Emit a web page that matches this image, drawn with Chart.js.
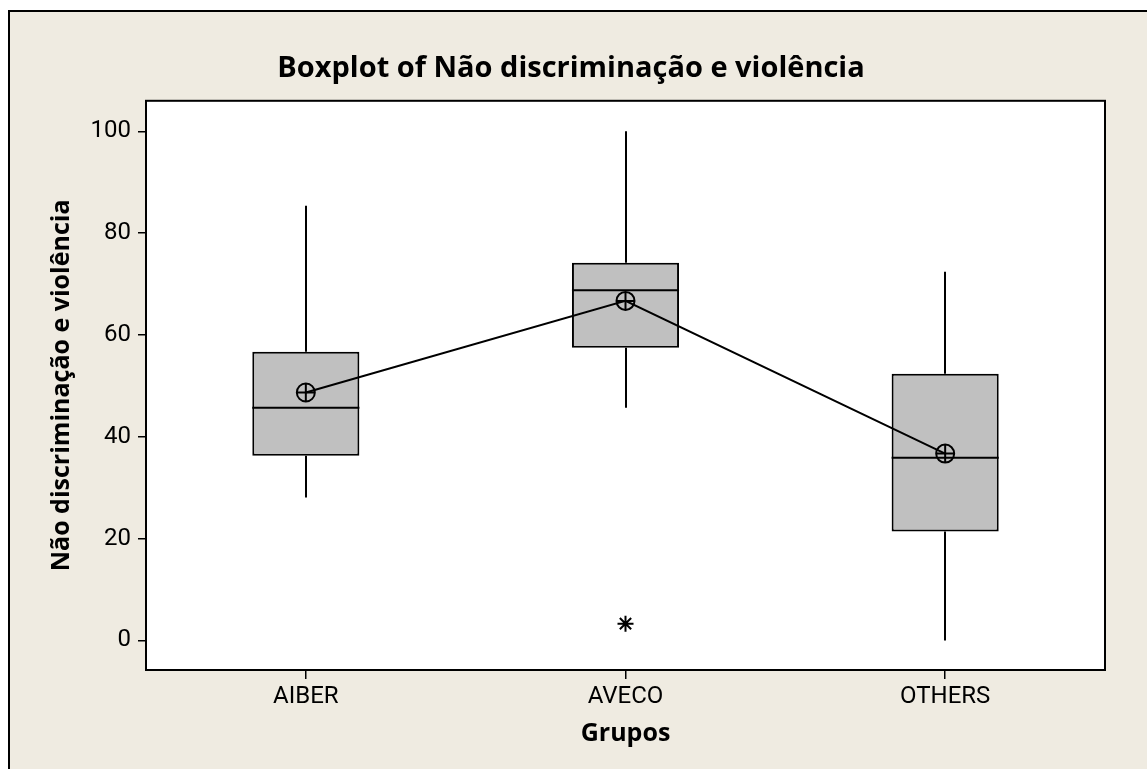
<!DOCTYPE html>
<html>
<head>
<meta charset="utf-8">
<script src="https://cdn.jsdelivr.net/npm/chart.js@4.4.1/dist/chart.umd.min.js"></script>
<style>
  html, body { margin: 0; padding: 0; background: #ffffff; overflow: hidden; }
  #wrap { width: 1147px; height: 769px; }
</style>
</head>
<body>
<div id="wrap"><canvas id="c" width="1147" height="769"></canvas></div>
<script>
// ---- data ----
const categories = ['AIBER', 'AVECO', 'OTHERS'];
const whiskerLow  = [28.1, 45.7, 0.0];
const q1          = [36.3, 57.5, 21.4];
const median      = [45.7, 68.8, 35.9];
const q3          = [56.7, 74.2, 52.4];
const whiskerHigh = [85.4, 100.0, 72.4];
const means       = [48.7, 66.7, 36.7];
const outliers    = [null, 3.3, null];
const yTicks      = [0, 20, 40, 60, 80, 100];

const titleText = 'Boxplot of Não discriminação e violência';
const xTitle = 'Grupos';
const yTitle = 'Não discriminação e violência';

const BG = '#EFEBE1';
const FONT = 'Roboto';
const BOLD_FONT = 'Open Sans';

const framePlugin = {
  id: 'frame',
  beforeDraw(chart) {
    const ctx = chart.ctx, a = chart.chartArea;
    ctx.save();
    ctx.fillStyle = '#ffffff';
    ctx.fillRect(0, 0, chart.width, chart.height);
    ctx.fillStyle = BG;
    ctx.fillRect(9, 11, chart.width - 9, chart.height - 11);
    ctx.strokeStyle = '#000';
    ctx.lineWidth = 2;
    ctx.beginPath();
    ctx.moveTo(9, chart.height);
    ctx.lineTo(9, 11);
    ctx.lineTo(chart.width, 11);
    ctx.stroke();
    ctx.fillStyle = '#ffffff';
    ctx.fillRect(a.left, a.top, a.right - a.left, a.bottom - a.top);
    ctx.restore();
  },
  afterDatasetDraw(chart, args) {
    if (args.index !== 0) return;
    const ctx = chart.ctx;
    const ys = chart.scales.y;
    const meta = chart.getDatasetMeta(0);
    ctx.save();
    ctx.strokeStyle = '#000';
    ctx.lineWidth = 2;
    meta.data.forEach((bar, i) => {
      const x = Math.round(bar.x);
      const half = bar.width / 2;
      ctx.beginPath();
      ctx.moveTo(x, ys.getPixelForValue(q1[i]));
      ctx.lineTo(x, ys.getPixelForValue(whiskerLow[i]));
      ctx.moveTo(x, ys.getPixelForValue(q3[i]));
      ctx.lineTo(x, ys.getPixelForValue(whiskerHigh[i]));
      const my = ys.getPixelForValue(median[i]);
      ctx.moveTo(bar.x - half, my);
      ctx.lineTo(bar.x + half, my);
      ctx.stroke();
    });
    ctx.restore();
  },
  afterDraw(chart) {
    const ctx = chart.ctx, a = chart.chartArea;
    ctx.save();
    ctx.strokeStyle = '#000';
    ctx.lineWidth = 2;
    ctx.strokeRect(a.left, a.top, a.right - a.left, a.bottom - a.top);
    ctx.restore();
  }
};

new Chart(document.getElementById('c'), {
  data: {
    labels: categories,
    datasets: [
      {
        type: 'bar',
        data: categories.map((c, i) => [q1[i], q3[i]]),
        backgroundColor: '#C0C0C0',
        borderColor: '#000',
        borderWidth: 2,
        borderSkipped: false,
        barPercentage: 0.335,
        categoryPercentage: 1,
        order: 5
      },
      {
        type: 'line',
        data: means,
        borderColor: '#000',
        borderWidth: 2,
        pointStyle: 'circle',
        pointRadius: 9,
        pointBorderWidth: 2,
        pointBackgroundColor: 'rgba(0,0,0,0)',
        pointBorderColor: '#000',
        order: 2
      },
      {
        type: 'line',
        data: means,
        showLine: false,
        pointStyle: 'cross',
        pointRadius: 9,
        pointBorderWidth: 2,
        pointBorderColor: '#000',
        order: 1
      },
      {
        type: 'line',
        data: outliers,
        showLine: false,
        pointStyle: 'star',
        pointRadius: 8,
        pointBorderWidth: 2,
        pointBorderColor: '#000',
        order: 1
      }
    ]
  },
  options: {
    responsive: false,
    animation: false,
    layout: { padding: { left: 37, right: 42, top: 0, bottom: 0 } },
    plugins: {
      legend: { display: false },
      tooltip: { enabled: false },
      title: {
        display: true,
        text: titleText,
        color: '#000',
        font: { family: BOLD_FONT, size: 29, weight: 'bold' },
        padding: { top: 51, bottom: 15 }
      }
    },
    scales: {
      x: {
        type: 'category',
        offset: true,
        grid: { display: true, offset: false, drawOnChartArea: false, drawTicks: true, tickLength: 9, color: '#000', lineWidth: 1.5 },
        border: { display: false },
        ticks: { color: '#000', font: { family: FONT, size: 24 }, padding: 4 },
        title: { display: true, text: xTitle, color: '#000', font: { family: BOLD_FONT, size: 25, weight: 'bold' }, padding: { top: 0, bottom: 20 } },
        afterFit(scale) { scale.height = 99; }
      },
      y: {
        type: 'linear',
        min: -5.8,
        max: 106,
        afterBuildTicks(scale) { scale.ticks = yTicks.map(v => ({ value: v })); },
        grid: { display: true, drawOnChartArea: false, drawTicks: true, tickLength: 8, color: '#000', lineWidth: 1.5 },
        border: { display: false },
        ticks: { color: '#000', font: { family: FONT, size: 24 }, padding: 7 },
        title: { display: true, text: yTitle, color: '#000', font: { family: BOLD_FONT, size: 25, weight: 'bold' }, padding: { top: 10, bottom: 0 } },
        afterFit(scale) { scale.width = 109; }
      }
    }
  },
  plugins: [framePlugin]
});
</script>
</body>
</html>
